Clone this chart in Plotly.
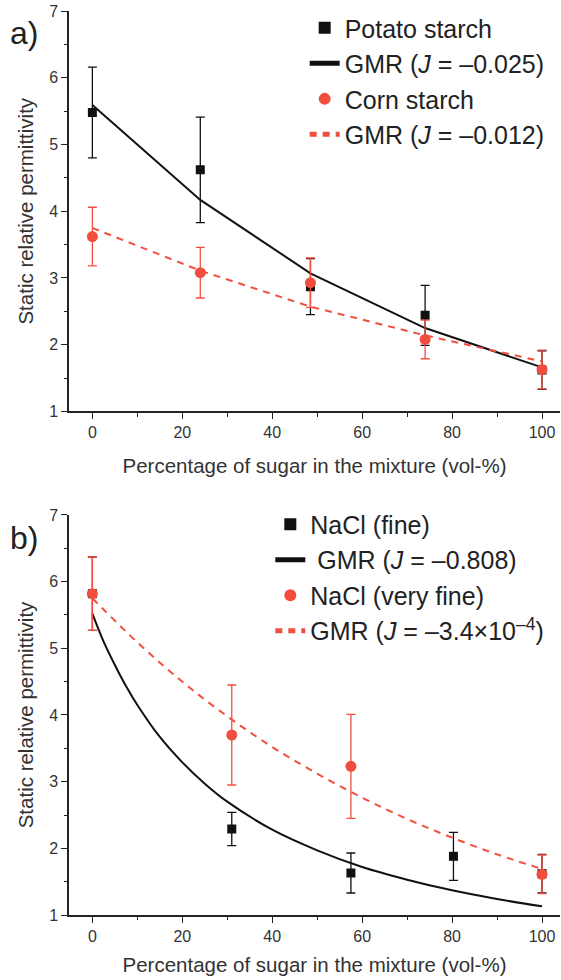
import plotly.graph_objects as go

# ---------------- data ----------------
# Panel a
a_x = [0, 24, 48.5, 74, 100]
potato_y = [5.48, 4.62, 2.87, 2.44, 1.62]
potato_err = [0.68, 0.79, 0.42, 0.45, 0.29]
corn_y = [3.62, 3.08, 2.93, 2.08, 1.63]
corn_err = [0.44, 0.38, 0.37, 0.29, 0.29]
potato_fit = [5.59, 4.17, 3.07, 2.25, 1.66]
corn_fit = [3.75, 3.11, 2.57, 2.14, 1.75]

# Panel b
fine_x = [0, 31, 57.5, 80.3, 100]
fine_y = [5.82, 2.29, 1.63, 1.88, 1.62]
fine_err = [0.55, 0.25, 0.30, 0.36, 0.29]
vfine_x = [0, 31, 57.5, 100]
vfine_y = [5.82, 3.70, 3.23, 1.61]
vfine_err = [0.55, 0.75, 0.78, 0.29]
fine_fit_x = [0, 2.5, 5, 7.5, 10, 15, 20, 25, 30, 40, 50, 60, 70, 80, 90, 100]
fine_fit = [5.52, 5.10, 4.75, 4.43, 4.15, 3.67, 3.29, 2.97, 2.70, 2.28, 1.97, 1.72, 1.53, 1.37, 1.24, 1.13]
vfine_fit_x = [0, 10, 20, 30, 40, 50, 60, 70, 80, 90, 100]
vfine_fit = [5.75, 5.09, 4.50, 3.98, 3.52, 3.12, 2.76, 2.44, 2.16, 1.91, 1.69]

x_ticks = [0, 20, 40, 60, 80, 100]
y_ticks = [1, 2, 3, 4, 5, 6, 7]

# ---------------- style ----------------
BLACK = "#111111"
RED = "#f24e3f"
AXIS = "#222222"
FONT = "Arial, Liberation Sans, sans-serif"

fig = go.Figure()


def points(x, y, err, name, symbol, color, size, xa, ya, legend):
    return go.Scatter(
        x=x, y=y, mode="markers", name=name,
        marker=dict(symbol=symbol, color=color, size=size, line=dict(width=0)),
        error_y=dict(type="data", array=err, visible=True, color=color,
                     thickness=1.3, width=4.5),
        xaxis=xa, yaxis=ya, legend=legend)


def fit(x, y, name, color, dash, xa, ya, legend, shape="linear"):
    return go.Scatter(
        x=x, y=y, mode="lines", name=name,
        line=dict(color=color, width=2, dash=dash, shape=shape),
        xaxis=xa, yaxis=ya, legend=legend)


# panel a (top)
fig.add_trace(points(a_x, potato_y, potato_err, "Potato starch", "square", BLACK, 9, "x", "y", "legend"))
fig.add_trace(fit(a_x, potato_fit, "GMR (<i>J</i> = –0.025)", BLACK, "solid", "x", "y", "legend"))
fig.add_trace(points(a_x, corn_y, corn_err, "Corn starch", "circle", RED, 11, "x", "y", "legend"))
fig.add_trace(fit(a_x, corn_fit, "GMR (<i>J</i> = –0.012)", RED, "7px,6px", "x", "y", "legend"))

# panel b (bottom)
fig.add_trace(points(fine_x, fine_y, fine_err, "NaCl (fine)", "square", BLACK, 9, "x2", "y2", "legend2"))
fig.add_trace(fit(fine_fit_x, fine_fit, " GMR (<i>J</i> = –0.808)", BLACK, "solid", "x2", "y2", "legend2", "spline"))
fig.add_trace(points(vfine_x, vfine_y, vfine_err, "NaCl (very fine)", "circle", RED, 11, "x2", "y2", "legend2"))
fig.add_trace(fit(vfine_fit_x, vfine_fit, "GMR (<i>J</i> = –3.4×10<sup>–4</sup>)", RED, "7px,6px", "x2", "y2", "legend2", "spline"))


def x_axis(standoff):
    return dict(
        range=[-5.2, 104], tickvals=x_ticks, ticks="outside", ticklen=6, tickwidth=1.3,
        tickcolor=AXIS, showline=True, linecolor=AXIS, linewidth=1.5, showgrid=False,
        zeroline=False, tickfont=dict(size=16, color="#333333", family=FONT),
        minor=dict(dtick=10, ticks="outside", ticklen=3.5, tickwidth=1.2, tickcolor=AXIS),
        title=dict(text="Percentage of sugar in the mixture (vol-%)",
                   font=dict(size=20.5, color="#333333", family=FONT), standoff=standoff),
    )


common_y = dict(
    range=[1, 7], tickvals=y_ticks, ticks="outside", ticklen=6, tickwidth=1.3,
    tickcolor=AXIS, showline=True, linecolor=AXIS, linewidth=1.5, showgrid=False,
    zeroline=False, tickfont=dict(size=16, color="#333333", family=FONT),
    minor=dict(dtick=0.5, ticks="outside", ticklen=3.5, tickwidth=1.2, tickcolor=AXIS),
    title=dict(text="Static relative permittivity",
               font=dict(size=20.5, color="#333333", family=FONT), standoff=10),
)

legend_common = dict(
    font=dict(size=25, color="#222222", family=FONT), bgcolor="rgba(0,0,0,0)",
    tracegroupgap=0, itemsizing="constant", xanchor="left", yanchor="top",
    traceorder="normal",
)

fig.update_layout(
    width=561, height=980,
    margin=dict(l=69, r=1, t=11, b=65),
    paper_bgcolor="white", plot_bgcolor="white",
    font=dict(family=FONT, color="#333333"),
    showlegend=True,
    xaxis=dict(domain=[0, 1], anchor="y", **x_axis(18)),
    yaxis=dict(domain=[0.557, 1], anchor="x", **common_y),
    xaxis2=dict(domain=[0, 1], anchor="y2", **x_axis(14)),
    yaxis2=dict(domain=[0, 0.4425], anchor="x2", **common_y),
    legend=dict(x=0.48, y=1.0065, **legend_common),
    legend2=dict(x=0.41, y=0.4575, **legend_common),
    annotations=[
        dict(text="a)", xref="paper", yref="paper", x=-0.125, y=0.976,
             xanchor="left", yanchor="middle", showarrow=False,
             font=dict(size=32, color="#222222", family=FONT)),
        dict(text="b)", xref="paper", yref="paper", x=-0.125, y=0.4175,
             xanchor="left", yanchor="middle", showarrow=False,
             font=dict(size=32, color="#222222", family=FONT)),
    ],
)

fig.write_html("out.html",
               config={"displayModeBar": False},
               post_script="document.body.style.margin='0';document.body.style.overflow='hidden';")
